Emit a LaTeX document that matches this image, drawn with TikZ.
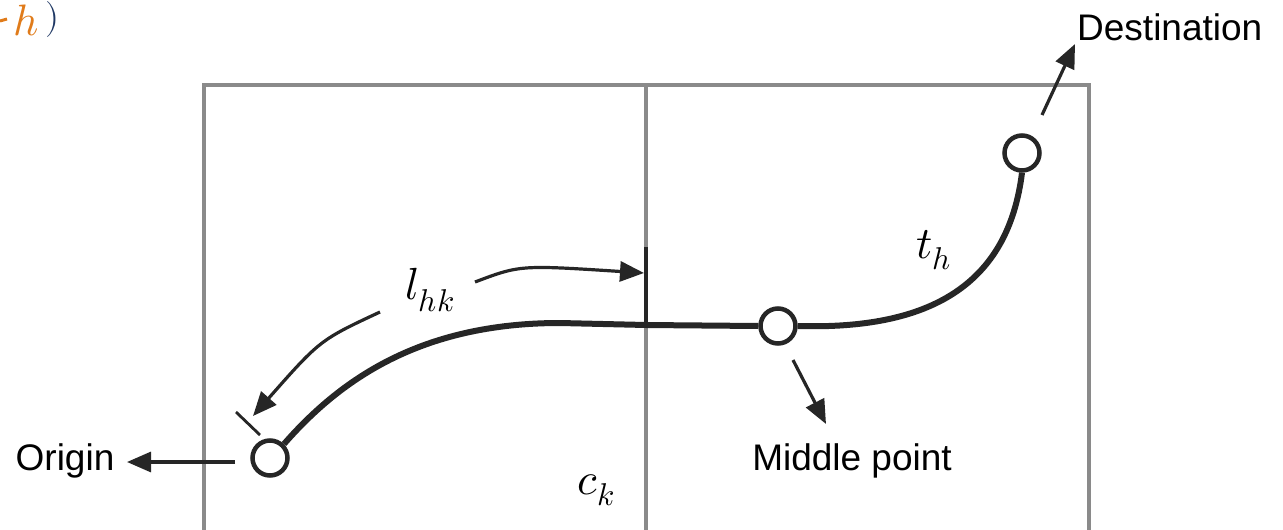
\documentclass[tikz,border=0pt]{standalone}
\usepackage{fontspec}
\usepackage{unicode-math}
\setmainfont{Liberation Sans}
\setmathfont{Latin Modern Math}
\usetikzlibrary{arrows.meta}
\definecolor{boxgray}{HTML}{8A8A8A}
\definecolor{ink}{HTML}{262626}
\definecolor{frorange}{HTML}{E07B1A}
\definecolor{frnavy}{HTML}{1F3864}
\begin{document}
\begin{tikzpicture}[x=1pt,y=-1pt,
  pt/.style={circle,draw=ink,line width=4.5pt,fill=white,minimum size=35pt,inner sep=0pt},
  route/.style={draw=ink,line width=6pt},
  pointer/.style={draw=ink,line width=3.2pt,-{Triangle[length=24pt,width=20pt]}},
  lab/.style={text=black,font=\fontsize{37}{44}\selectfont,inner sep=0pt},
  mathlab/.style={text=black,font=\fontsize{45}{52}\selectfont,inner sep=0pt},
  gridline/.style={draw=boxgray,line width=4.5pt}]
\useasboundingbox (0,0) rectangle (1283,530);
\begin{scope}
\clip (0,0) rectangle (1283,530);
% grid cells
\draw[gridline] (204,545) -- (204,85) -- (1089,85) -- (1089,545);
\draw[gridline] (646,85) -- (646,545);
% top-left fragment
\draw[frorange,line width=3pt] (0,21) -- (7,19);
\node[text=frorange,font=\fontsize{44}{52}\selectfont,inner sep=0pt] (frh) at (26,20) {$h$};
\node[text=frnavy,font=\fontsize{36}{44}\selectfont,inner sep=0pt] (frp) at (53,19) {$\boldsymbol{)}$};
\end{scope}
% points
\node[pt] (o) at (270,458) {};
\node[pt] (m) at (778,326) {};
\node[pt] (d) at (1022,153) {};
% divider tick
\coordinate (tt) at (646,247);
\coordinate (tb) at (646,325);
\draw[draw=ink,line width=3.2pt] (tt) -- (tb);
% route
\draw[route] (o.45) .. controls (340,380) and (420,323) .. (560,323) -- (tb) -- (m.west);
\draw[route] (m.east) .. controls (930,330) and (1008,285) .. (d.south);
% origin tick
\coordinate (ot1) at (236,412);
\coordinate (ot2) at (260,435);
\draw[draw=ink,line width=2.8pt] (ot1) -- (ot2);
% labels
\node[lab] (origin) at (65,461) {Origin};
\node[lab] (middle) at (852,461) {Middle point};
\node[lab,anchor=west] (dest) at (1077,27) {Destination};
\node[mathlab] (lhk) at (430,290) {$l_{hk}$};
\node[mathlab] (th) at (934,250) {$t_h$};
\node[mathlab] (ck) at (596,490) {$c_k$};
% pointers
\coordinate (oa) at (235,462);
\coordinate (oe) at (127,462);
\coordinate (ma) at (793,360);
\coordinate (me) at (826,424);
\coordinate (da) at (1042,115);
\coordinate (de) at (1075,44);
\coordinate (la1) at (475,282);
\coordinate (la2) at (380,312);
\coordinate (tip1) at (644,273);
\coordinate (tip2) at (253,416);
\draw[pointer] (oa) -- (oe);
\draw[pointer] (ma) -- (me);
\draw[pointer] (da) -- (de);
\draw[pointer] (la1) .. controls (520,265) .. (tip1);
\draw[pointer] (la2) .. controls (320,340) .. (tip2);
\end{tikzpicture}
\end{document}
